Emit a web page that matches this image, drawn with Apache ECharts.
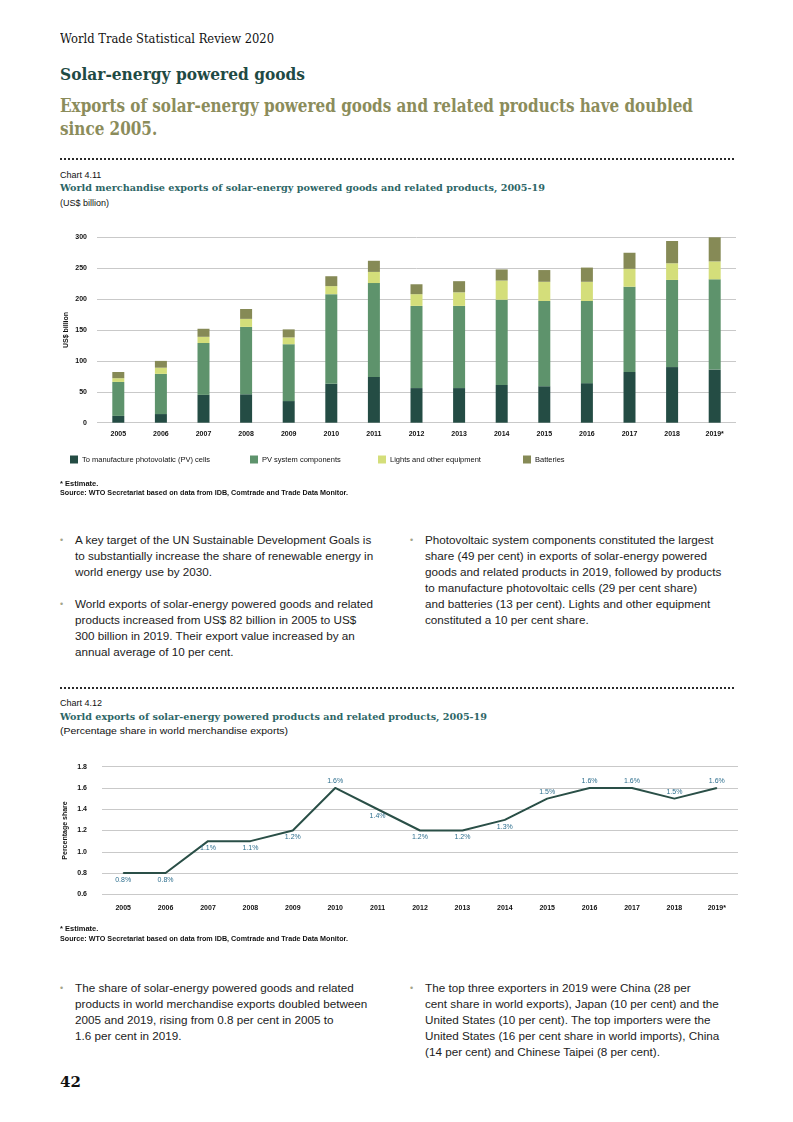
<!DOCTYPE html>
<html><head><meta charset="utf-8">
<script src="https://cdn.jsdelivr.net/npm/echarts@6/dist/echarts.min.js"></script>
<style>
html,body{margin:0;padding:0;}
body{width:793px;height:1122px;position:relative;background:#fff;font-family:"Liberation Sans",Arial,sans-serif;color:#1a1a1a;overflow:hidden;}
.t{position:absolute;white-space:nowrap;transform-origin:0 50%;}
.slab{font-family:"DejaVu Serif",serif;}
.dots{position:absolute;left:60px;width:674px;height:0;border-top:2.5px dotted #2a2a2a;}
.body{position:absolute;font-size:11.7px;line-height:16px;white-space:nowrap;color:#1c1c1c;}
.bul{position:absolute;font-size:9px;line-height:16px;color:#a4a48a;}
.src{font-size:7.5px;line-height:9px;font-weight:bold;color:#111;}
.sm{font-size:9px;line-height:11px;color:#111;}
.ctitle{font-size:9.5px;line-height:12px;font-weight:bold;color:#2d6666;}
#c1{position:absolute;left:0;top:220px;width:793px;height:260px;}
#c2{position:absolute;left:0;top:750px;width:793px;height:175px;}
</style></head>
<body>
<div class="t slab" style="left:60px;top:32px;font-size:12px;line-height:14px;color:#111;" data-w="214">World Trade Statistical Review 2020</div>
<div class="t slab" style="left:60px;top:64px;font-size:17px;line-height:20px;font-weight:bold;color:#1f4a44;" data-w="245">Solar-energy powered goods</div>
<div class="t slab" style="left:60px;top:94px;font-size:18px;line-height:23px;font-weight:bold;color:#8b8c5b;" data-w="633">Exports of solar-energy powered goods and related products have doubled<br>since 2005.</div>
<div class="dots" style="top:158px;"></div>
<div class="t sm" style="left:60px;top:170px;">Chart 4.11</div>
<div class="t slab ctitle" style="left:60px;top:182px;" data-w="485">World merchandise exports of solar-energy powered goods and related products, 2005-19</div>
<div class="t sm" style="left:60px;top:198px;">(US$ billion)</div>
<div id="c1"></div>
<div class="t src" style="left:60px;top:479px;">* Estimate.</div>
<div class="t src" style="left:60px;top:488px;" data-w="288">Source: WTO Secretariat based on data from IDB, Comtrade and Trade Data Monitor.</div>

<div class="bul" style="left:60px;top:532px;">•</div>
<div class="body" style="left:75px;top:532px;">A key target of the UN Sustainable Development Goals is<br>to substantially increase the share of renewable energy in<br>world energy use by 2030.</div>
<div class="bul" style="left:60px;top:596px;">•</div>
<div class="body" style="left:75px;top:596px;">World exports of solar-energy powered goods and related<br>products increased from US$ 82 billion in 2005 to US$<br>300 billion in 2019. Their export value increased by an<br>annual average of 10 per cent.</div>
<div class="bul" style="left:410px;top:532px;">•</div>
<div class="body" style="left:425px;top:532px;">Photovoltaic system components constituted the largest<br>share (49 per cent) in exports of solar-energy powered<br>goods and related products in 2019, followed by products<br>to manufacture photovoltaic cells (29 per cent share)<br>and batteries (13 per cent). Lights and other equipment<br>constituted a 10 per cent share.</div>

<div class="dots" style="top:687px;"></div>
<div class="t sm" style="left:60px;top:698px;">Chart 4.12</div>
<div class="t slab ctitle" style="left:60px;top:711px;" data-w="427">World exports of solar-energy powered products and related products, 2005-19</div>
<div class="t sm" style="left:60px;top:726px;" data-w="228">(Percentage share in world merchandise exports)</div>
<div id="c2"></div>
<div class="t src" style="left:60px;top:924px;">* Estimate.</div>
<div class="t src" style="left:60px;top:934px;" data-w="288">Source: WTO Secretariat based on data from IDB, Comtrade and Trade Data Monitor.</div>

<div class="bul" style="left:60px;top:980px;">•</div>
<div class="body" style="left:75px;top:980px;">The share of solar-energy powered goods and related<br>products in world merchandise exports doubled between<br>2005 and 2019, rising from 0.8 per cent in 2005 to<br>1.6 per cent in 2019.</div>
<div class="bul" style="left:410px;top:980px;">•</div>
<div class="body" style="left:425px;top:980px;">The top three exporters in 2019 were China (28 per<br>cent share in world exports), Japan (10 per cent) and the<br>United States (10 per cent). The top importers were the<br>United States (16 per cent share in world imports), China<br>(14 per cent) and Chinese Taipei (8 per cent).</div>

<div class="t slab" style="left:60px;top:1072px;font-size:15px;line-height:20px;font-weight:bold;color:#111;">42</div>

<script>
// ---- Chart 4.11 data (US$ billion) ----
var years = ['2005','2006','2007','2008','2009','2010','2011','2012','2013','2014','2015','2016','2017','2018','2019*'];
var pvCells      = [11, 14, 45, 46, 35, 63, 74, 56, 56, 61, 59, 64, 82, 90, 86];
var pvComponents = [55, 65, 84, 109, 92, 145, 152, 133, 133, 138, 138, 133, 138, 141, 146];
var lightsEquip  = [6, 10, 10, 13, 11, 13, 18, 19, 22, 31, 31, 31, 29, 27, 29];
var batteries    = [10, 11, 13, 16, 13, 16, 18, 16, 18, 18, 19, 23, 26, 36, 39];
var seriesNames = ['To manufacture photovolatic (PV) cells','PV system components','Lights and other equipment','Batteries'];
var barTicks = [0, 50, 100, 150, 200, 250, 300];

// ---- Chart 4.12 data (percentage share) ----
var shareValues = [0.8, 0.8, 1.1, 1.1, 1.2, 1.6, 1.4, 1.2, 1.2, 1.3, 1.5, 1.6, 1.6, 1.5, 1.6];
var shareLabelPos = ['bottom','bottom','bottom','bottom','bottom','top','bottom','bottom','bottom','bottom','top','top','top','top','top'];
var shareTicks = [0.6, 0.8, 1.0, 1.2, 1.4, 1.6, 1.8];

// fit text widths
document.querySelectorAll('[data-w]').forEach(function(el){
  var w = el.getBoundingClientRect().width;
  var target = parseFloat(el.getAttribute('data-w'));
  if (w > 0) el.style.transform = 'scaleX(' + (target / w) + ')';
});

var colors = ['#244c44', '#5e936c', '#d4de7a', '#868a56'];
var axisFont = {fontFamily:'Liberation Sans, Arial, sans-serif', fontSize:7, fontWeight:'bold', color:'#111'};

var c1 = echarts.init(document.getElementById('c1'), null, {renderer:'canvas'});
var vals = [pvCells, pvComponents, lightsEquip, batteries];
var legendLefts = [70, 250, 378, 523];
c1.setOption({
  animation:false,
  color: colors,
  grid:{left:97, right:57, top:17.3, bottom:57.3},
  legend: seriesNames.map(function(n,i){
    return {data:[n], left:legendLefts[i], top:235.5, itemWidth:8, itemHeight:8, icon:'rect', itemGap:0,
      textStyle:{fontFamily:'Liberation Sans, Arial, sans-serif', fontSize:7.5, color:'#111', padding:[0,0,0,-1]}, padding:0};
  }),
  xAxis:{type:'category', data:years, axisLine:{show:false}, axisTick:{show:false},
    axisLabel:Object.assign({margin:8}, axisFont)},
  yAxis:{type:'value', min:barTicks[0], max:barTicks[barTicks.length-1], interval:50,
    name:'US$ billion', nameLocation:'middle', nameGap:27, nameRotate:90, nameMoveOverlap:false,
    nameTextStyle:{fontFamily:'Liberation Sans, Arial, sans-serif', fontSize:7, fontWeight:'bold', color:'#111'},
    axisLine:{show:false}, axisTick:{show:false},
    axisLabel:Object.assign({margin:10}, axisFont),
    splitLine:{lineStyle:{color:'#c9c9c9', width:1}}},
  series: vals.map(function(v,i){
    return {name:seriesNames[i], type:'bar', stack:'total', data:v, barWidth:12};
  })
});

var c2 = echarts.init(document.getElementById('c2'), null, {renderer:'canvas'});
c2.setOption({
  animation:false,
  grid:{left:102, right:55, top:16.7, bottom:30.7},
  xAxis:{type:'category', data:years, axisLine:{show:false}, axisTick:{show:false},
    axisLabel:Object.assign({margin:10}, axisFont)},
  yAxis:{type:'value', min:shareTicks[0], max:shareTicks[shareTicks.length-1], interval:0.2,
    name:'Percentage share', nameLocation:'middle', nameGap:33, nameRotate:90, nameMoveOverlap:false,
    nameTextStyle:{fontFamily:'Liberation Sans, Arial, sans-serif', fontSize:7, fontWeight:'bold', color:'#111'},
    axisLine:{show:false}, axisTick:{show:false},
    axisLabel:Object.assign({margin:15, formatter:function(v){return v.toFixed(1);}}, axisFont),
    splitLine:{lineStyle:{color:'#c9c9c9', width:1}}},
  series:[{
    type:'line', data:shareValues.map(function(v,i){
      return {value:v, label:{position:shareLabelPos[i]}};
    }),
    symbol:'circle', symbolSize:1, showSymbol:true, showAllSymbol:true,
    itemStyle:{color:'#2a4f47'},
    lineStyle:{color:'#2a4f47', width:2},
    labelLayout:{hideOverlap:false},
    label:{show:true, distance:3, formatter:function(p){return p.value.toFixed(1)+'%';},
      fontFamily:'Liberation Sans, Arial, sans-serif', fontSize:7, color:'#2e6f8e'}
  }]
});
</script>
</body></html>
